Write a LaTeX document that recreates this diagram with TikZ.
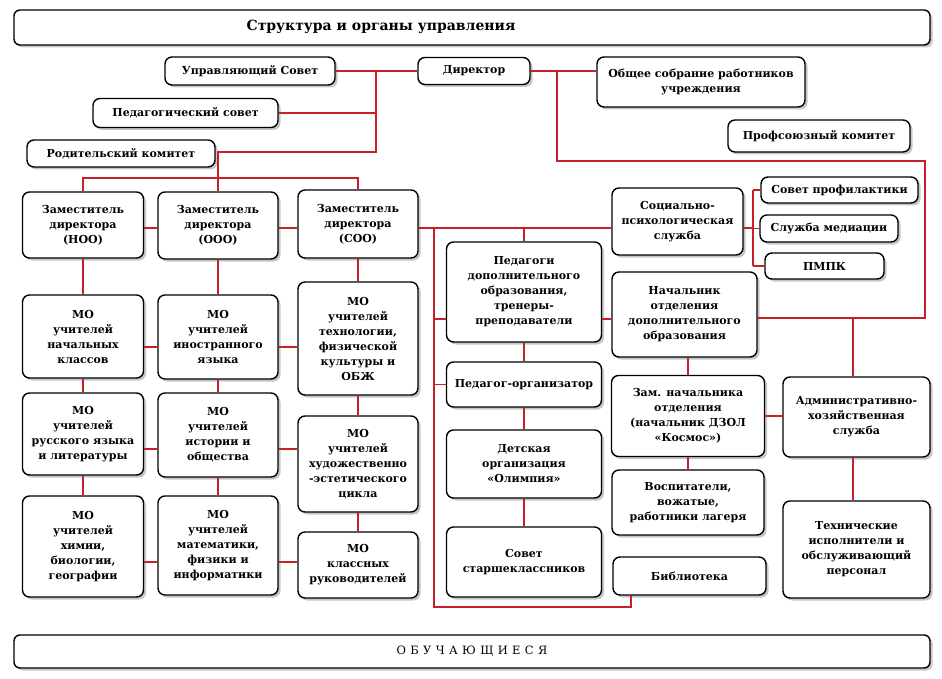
\documentclass[tikz,border=0pt]{standalone}
\usepackage{fontspec}
\setmainfont{DejaVu Serif}
\usetikzlibrary{shadows}
\definecolor{linkred}{RGB}{200,32,40}

\begin{document}
\begin{tikzpicture}[x=1pt,y=-1pt,
	orgbox/.style={draw, line width=1.4pt, rounded corners=7pt, fill=white,
		align=center, inner sep=1pt,
		font=\bfseries\fontsize{11}{15}\selectfont,
		drop shadow={shadow xshift=2.5pt, shadow yshift=-2.5pt, opacity=0.45}},
	topbox/.style={orgbox, font=\bfseries\fontsize{11}{15}\selectfont},
	sz/.style 2 args={minimum width=#1pt, minimum height=#2pt},
	link/.style={draw=linkred, line width=1.6pt}]

	\useasboundingbox (0,0) rectangle (942,679);

	% heading and bottom bar
	\node[orgbox, sz={916}{35}, rounded corners=6pt] (title) at (472,27.5) {};
	\node[font=\bfseries\fontsize{14}{16}\selectfont] (titletxt) at (381,27) {Структура и органы управления};
	\node[orgbox, sz={916}{33}, rounded corners=6pt,
		font=\fontsize{11.5}{13}\selectfont\addfontfeatures{LetterSpace=38}] (obuch) at (472,651.5) {ОБУЧАЮЩИЕСЯ};

	% top level
	\node[topbox, sz={170}{28}] (upr) at (250,71) {Управляющий Совет};
	\node[topbox, sz={112}{27}] (dir) at (474,71) {Директор};
	\node[topbox, sz={208}{50}] (sobr) at (701,82) {Общее собрание работников\\учреждения};
	\node[topbox, sz={185}{29}] (pedsov) at (185.5,113) {Педагогический совет};
	\node[topbox, sz={182}{32}] (profkom) at (819,136) {Профсоюзный комитет};
	\node[topbox, sz={188}{27}] (rodkom) at (121,153.5) {Родительский комитет};

	% deputies and their MO
	\node[orgbox, sz={121}{66}] (zamN) at (83,225) {Заместитель\\директора\\(НОО)};
	\node[orgbox, sz={120}{67}] (zamO) at (218,225.5) {Заместитель\\директора\\(ООО)};
	\node[orgbox, sz={120}{68}] (zamS) at (358,224) {Заместитель\\директора\\(СОО)};

	\node[orgbox, sz={121}{83}] (moNK) at (83,336.5) {МО\\учителей\\начальных\\классов};
	\node[orgbox, sz={121}{82}] (moRYa) at (83,434) {МО\\учителей\\русского языка\\и литературы};
	\node[orgbox, sz={121}{101}] (moHB) at (83,546.5) {МО\\учителей\\химии,\\биологии,\\географии};
	\node[orgbox, sz={120}{84}] (moIYa) at (218,337) {МО\\учителей\\иностранного\\языка};
	\node[orgbox, sz={120}{84}] (moIO) at (218,435) {МО\\учителей\\истории и\\общества};
	\node[orgbox, sz={120}{99}] (moMF) at (218,545.5) {МО\\учителей\\математики,\\физики и\\информатики};
	\node[orgbox, sz={120}{113}] (moTF) at (358,338.5) {МО\\учителей\\технологии,\\физической\\культуры и\\ОБЖ};
	\node[orgbox, sz={120}{96}] (moHE) at (358,464) {МО\\учителей\\художественно\\-эстетического\\цикла};
	\node[orgbox, sz={120}{66}] (moKR) at (358,565) {МО\\классных\\руководителей};

	% middle column
	\node[orgbox, sz={155}{100}] (pdo) at (524,292) {Педагоги\\дополнительного\\образования,\\тренеры-\\преподаватели};
	\node[orgbox, sz={155}{45}] (porg) at (524,384.5) {Педагог-организатор};
	\node[orgbox, sz={155}{68}] (dorg) at (524,464) {Детская\\организация\\«Олимпия»};
	\node[orgbox, sz={155}{70}] (sst) at (524,562) {Совет\\старшеклассников};

	% right part
	\node[orgbox, sz={131}{67}] (spsl) at (677.5,221.5) {Социально-\\психологическая\\служба};
	\node[orgbox, sz={157}{26}] (sprof) at (839.5,190) {Совет профилактики};
	\node[orgbox, sz={138}{27}] (smed) at (829,228.5) {Служба медиации};
	\node[orgbox, sz={119}{26}] (pmpk) at (824.5,266) {ПМПК};
	\node[orgbox, sz={145}{85}] (nach) at (684.5,314.5) {Начальник\\отделения\\дополнительного\\образования};
	\node[orgbox, sz={153}{81}] (zamnach) at (688,416) {Зам. начальника\\отделения\\(начальник ДЗОЛ\\«Космос»)};
	\node[orgbox, sz={152}{65}] (vosp) at (688,502.5) {Воспитатели,\\вожатые,\\работники лагеря};
	\node[orgbox, sz={153}{38}] (bibl) at (689.5,576) {Библиотека};
	\node[orgbox, sz={147}{80}] (ahs) at (856.5,417) {Административно-\\хозяйственная\\служба};
	\node[orgbox, sz={147}{97}] (tehn) at (856.5,549.5) {Технические\\исполнители и\\обслуживающий\\персонал};

	% bends and levels of the red lines
	\coordinate (jL) at (376,71);
	\coordinate (jL2) at (376,152);
	\coordinate (busR) at (358,178);
	\coordinate (jR) at (557,71);
	\coordinate (jR2) at (557,161);
	\coordinate (jR3) at (925,161);
	\coordinate (jR4) at (925,318);
	\coordinate (jS) at (434,228);
	\coordinate (jS2) at (434,607);
	\coordinate (jB) at (631,607);
	\coordinate (jP) at (753,228);
	\coordinate (jA) at (853,0);
	\coordinate (lvA) at (0,228);
	\coordinate (lvB) at (0,347);
	\coordinate (lvC) at (0,449);
	\coordinate (lvD) at (0,562);
	\coordinate (lvE) at (0,319);

	% director links
	\draw[link] (upr.east) -- (upr.east -| dir.west);
	\draw[link] (dir.east) -- (sobr.west |- dir.east);
	\draw[link] (pedsov.east) -- (pedsov.east -| jL);
	\draw[link] (jL) -- (jL2) -| (zamO.north);
	\draw[link] (zamN.north) |- (busR) -- (zamS.north);
	\draw[link] (jR) -- (jR2) -- (jR3) -- (jR4) -- (nach.east |- jR4);
	\draw[link] (ahs.north -| jA) -- (jR4 -| jA);

	% deputies rows
	\draw[link] (zamN.east |- lvA) -- (zamO.west |- lvA);
	\draw[link] (zamO.east |- lvA) -- (zamS.west |- lvA);
	\draw[link] (zamS.east |- lvA) -- (spsl.west |- lvA);
	\draw[link] (moNK.east |- lvB) -- (moIYa.west |- lvB);
	\draw[link] (moIYa.east |- lvB) -- (moTF.west |- lvB);
	\draw[link] (moRYa.east |- lvC) -- (moIO.west |- lvC);
	\draw[link] (moIO.east |- lvC) -- (moHE.west |- lvC);
	\draw[link] (moHB.east |- lvD) -- (moMF.west |- lvD);
	\draw[link] (moMF.east |- lvD) -- (moKR.west |- lvD);

	% columns
	\draw[link] (zamN.south) -- (moNK.north);
	\draw[link] (moNK.south) -- (moRYa.north);
	\draw[link] (moRYa.south) -- (moHB.north);
	\draw[link] (zamO.south) -- (moIYa.north);
	\draw[link] (moIYa.south) -- (moIO.north);
	\draw[link] (moIO.south) -- (moMF.north);
	\draw[link] (zamS.south) -- (moTF.north);
	\draw[link] (moTF.south) -- (moHE.north);
	\draw[link] (moHE.south) -- (moKR.north);

	% middle column
	\draw[link] (jS) -- (jS2) -- (jB) -- (jB |- bibl.south);
	\draw[link] (pdo.north) -- (pdo.north |- lvA);
	\draw[link] (jS |- lvE) -- (pdo.west |- lvE);
	\draw[link] (jS |- porg.west) -- (porg.west);
	\draw[link] (pdo.south) -- (porg.north);
	\draw[link] (porg.south) -- (dorg.north);
	\draw[link] (dorg.south) -- (sst.north);

	% right part
	\draw[link] (spsl.east |- lvA) -- (jP);
	\draw[link] (jP |- sprof.west) -- (jP |- pmpk.west);
	\draw[link] (jP |- sprof.west) -- (sprof.west);
	\draw[link] (jP |- smed.west) -- (smed.west);
	\draw[link] (jP |- pmpk.west) -- (pmpk.west);
	\draw[link] (pdo.east |- lvE) -- (nach.west |- lvE);
	\draw[link] (zamnach.north) -- (zamnach.north |- nach.south);
	\draw[link] (zamnach.south) -- (zamnach.south |- vosp.north);
	\draw[link] (zamnach.east) -- (ahs.west |- zamnach.east);
	\draw[link] (ahs.south -| jA) -- (tehn.north -| jA);

\end{tikzpicture}
\end{document}
